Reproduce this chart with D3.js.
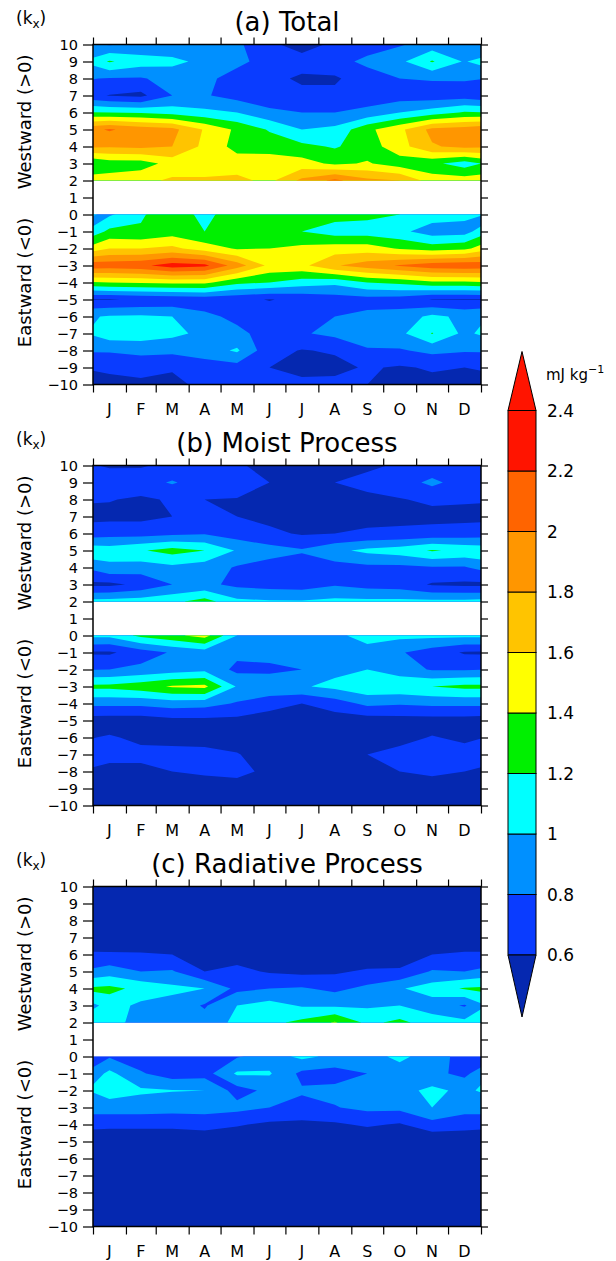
<!DOCTYPE html>
<html><head><meta charset="utf-8">
<script src="https://cdn.jsdelivr.net/npm/d3@7"></script>
<style>body{margin:0;background:#fff}svg{display:block}text{font-family:"DejaVu Sans",sans-serif;fill:#000}</style>
</head><body>
<script>
const months = ["J","F","M","A","M","J","J","A","S","O","N","D"];
const monthDays = [31,28,31,30,31,30,31,31,30,31,30,31];
const kxWest = [10,9,8,7,6,5,4,3,2];
const kxEast = [0,-1,-2,-3,-4,-5,-6,-7,-8,-9,-10];
const yTicks = d3.range(-10, 11);
const levels = [0.6,0.8,1.0,1.2,1.4,1.6,1.8,2.0,2.2,2.4];
const levelLabels = ["0.6","0.8","1","1.2","1.4","1.6","1.8","2","2.2","2.4"];
const panelTitles = ["(a) Total","(b) Moist Process","(c) Radiative Process"];
const colors = ["#0528b0","#0a3cff","#0090ff","#00ffff","#00f000","#ffff00","#ffc400","#ff9600","#ff6400","#ff1400","#ff1400"];

// (a) Total — rows kx 10..2, columns J..D
const totalWest = [
 [0.78,0.84,0.86,0.88,0.84,0.64,0.52,0.64,0.72,0.78,0.88,0.85],
 [1.22,1.10,1.05,0.95,0.85,0.72,0.68,0.74,0.84,0.95,1.22,0.98],
 [0.79,0.78,0.88,0.85,0.72,0.65,0.57,0.57,0.72,0.80,0.82,0.82],
 [0.59,0.55,0.80,0.82,0.72,0.66,0.65,0.65,0.70,0.70,0.68,0.70],
 [1.20,1.18,1.12,1.05,1.00,0.85,0.80,0.80,0.85,1.00,1.10,1.22],
 [2.02,1.92,1.86,1.58,1.36,1.18,1.00,1.05,1.35,1.55,1.86,1.90],
 [1.82,1.85,1.80,1.55,1.33,1.32,1.25,1.18,1.30,1.52,1.78,1.85],
 [1.30,1.30,1.48,1.41,1.50,1.50,1.48,1.36,1.42,1.30,1.25,1.10],
 [1.48,1.55,1.63,1.65,1.65,1.55,1.85,2.05,1.85,1.80,1.50,1.50]
];
// (a) Total — rows kx 0..-10
const totalEast = [
 [0.97,1.18,1.30,1.15,1.30,1.35,1.30,1.28,1.25,1.20,1.10,1.05],
 [1.25,1.22,1.30,1.20,1.32,1.35,1.20,1.10,1.10,1.05,0.90,0.92],
 [1.60,1.60,1.65,1.50,1.38,1.40,1.45,1.50,1.50,1.38,1.30,1.35],
 [2.12,2.15,2.30,2.25,1.90,1.55,1.55,1.78,1.90,2.02,2.12,2.15],
 [1.40,1.42,1.45,1.45,1.25,1.20,1.10,1.05,1.20,1.25,1.35,1.35],
 [0.59,0.62,0.65,0.68,0.65,0.59,0.65,0.70,0.72,0.70,0.59,0.59],
 [1.02,1.03,1.00,0.85,0.75,0.70,0.70,0.80,0.85,0.88,1.05,0.95],
 [1.12,1.12,1.05,0.95,0.85,0.72,0.78,0.85,0.90,0.95,1.21,0.95],
 [0.82,0.85,0.85,0.90,1.03,0.66,0.59,0.62,0.78,0.78,0.85,0.82],
 [0.65,0.68,0.62,0.70,0.72,0.60,0.50,0.55,0.62,0.58,0.62,0.60],
 [0.52,0.55,0.55,0.65,0.68,0.68,0.68,0.65,0.60,0.55,0.55,0.55]
];
// (b) Moist Process
const moistWest = [
 [0.58,0.58,0.65,0.66,0.62,0.55,0.52,0.55,0.57,0.62,0.66,0.64],
 [0.70,0.72,0.82,0.70,0.70,0.60,0.52,0.60,0.65,0.70,0.85,0.70],
 [0.61,0.57,0.62,0.60,0.59,0.55,0.50,0.53,0.56,0.59,0.63,0.62],
 [0.55,0.55,0.60,0.70,0.60,0.55,0.52,0.54,0.56,0.55,0.55,0.55],
 [0.72,0.72,0.75,0.78,0.70,0.64,0.58,0.60,0.62,0.64,0.66,0.68],
 [1.10,1.18,1.28,1.20,0.98,0.88,0.82,0.95,1.05,1.10,1.22,1.15],
 [0.95,0.90,0.95,0.90,0.78,0.72,0.70,0.72,0.75,0.75,0.78,0.78],
 [0.55,0.65,0.80,0.85,0.75,0.72,0.70,0.78,0.72,0.70,0.58,0.56],
 [1.08,1.10,1.15,1.28,1.05,1.02,1.02,1.05,1.05,1.05,1.05,1.05]
];
const moistEast = [
 [1.05,1.25,1.35,1.48,1.00,0.90,0.90,0.97,1.05,1.05,1.05,1.05],
 [0.57,0.70,0.82,0.90,0.85,0.88,0.90,0.92,0.95,0.82,0.70,0.58],
 [0.80,0.85,0.90,0.95,0.75,0.75,0.80,0.95,1.00,0.90,0.78,0.78],
 [1.25,1.32,1.42,1.45,0.98,0.95,0.98,1.05,1.15,1.15,1.20,1.25],
 [0.85,0.85,0.90,0.88,0.78,0.68,0.60,0.70,0.85,0.82,0.85,0.85],
 [0.50,0.50,0.55,0.55,0.55,0.50,0.45,0.50,0.50,0.52,0.52,0.52],
 [0.62,0.56,0.55,0.55,0.52,0.50,0.48,0.50,0.52,0.55,0.61,0.57],
 [0.65,0.65,0.65,0.64,0.61,0.52,0.48,0.50,0.60,0.65,0.68,0.66],
 [0.55,0.55,0.60,0.63,0.66,0.55,0.48,0.50,0.52,0.60,0.64,0.60],
 [0.50,0.48,0.50,0.50,0.50,0.50,0.45,0.48,0.50,0.50,0.50,0.50],
 [0.50,0.48,0.50,0.50,0.50,0.50,0.45,0.48,0.50,0.50,0.50,0.50]
];
// (c) Radiative Process
const radWest = [
 [0.40,0.40,0.40,0.40,0.40,0.40,0.40,0.40,0.40,0.40,0.40,0.40],
 [0.40,0.40,0.40,0.40,0.40,0.40,0.40,0.40,0.40,0.40,0.40,0.40],
 [0.42,0.42,0.42,0.42,0.42,0.42,0.42,0.42,0.42,0.42,0.42,0.42],
 [0.42,0.45,0.45,0.42,0.42,0.40,0.40,0.40,0.42,0.42,0.45,0.45],
 [0.63,0.62,0.60,0.50,0.52,0.45,0.42,0.42,0.45,0.48,0.60,0.63],
 [0.90,0.80,0.82,0.60,0.65,0.58,0.55,0.57,0.63,0.63,0.82,0.80],
 [1.25,1.15,1.05,1.00,0.75,0.80,0.82,0.75,0.85,0.98,1.10,1.22],
 [1.10,0.95,0.92,0.78,1.00,1.08,0.98,0.97,0.97,1.00,0.90,0.78],
 [1.05,0.95,0.90,0.88,1.05,1.15,1.25,1.42,1.15,1.25,1.10,1.05]
];
const radEast = [
 [0.78,0.70,0.65,0.65,0.78,0.90,1.05,0.95,0.92,1.05,0.90,0.72],
 [1.05,0.82,0.70,0.72,1.03,1.02,0.75,0.72,0.80,0.90,0.85,0.75],
 [1.10,1.03,1.01,1.00,0.72,0.85,0.82,0.85,0.88,0.93,1.05,0.95],
 [0.90,0.90,0.88,0.88,0.86,0.80,0.75,0.79,0.85,0.85,1.00,0.88],
 [0.65,0.65,0.65,0.68,0.62,0.56,0.55,0.57,0.63,0.58,0.73,0.68],
 [0.45,0.45,0.45,0.45,0.45,0.45,0.42,0.42,0.42,0.45,0.43,0.45],
 [0.40,0.40,0.40,0.40,0.40,0.40,0.40,0.40,0.40,0.40,0.40,0.40],
 [0.40,0.40,0.40,0.40,0.40,0.40,0.40,0.40,0.40,0.40,0.40,0.40],
 [0.40,0.40,0.40,0.40,0.40,0.40,0.40,0.40,0.40,0.40,0.40,0.40],
 [0.40,0.40,0.40,0.40,0.40,0.40,0.40,0.40,0.40,0.40,0.40,0.40],
 [0.40,0.40,0.40,0.40,0.40,0.40,0.40,0.40,0.40,0.40,0.40,0.40]
];

const panels = [
  {title: panelTitles[0], west: totalWest, east: totalEast},
  {title: panelTitles[1], west: moistWest, east: moistEast},
  {title: panelTitles[2], west: radWest, east: radEast}
];

const W = 616, H = 1261;
const svg = d3.select("body").append("svg").attr("width", W).attr("height", H);
const x0 = 93, x1 = 481;
const dayScale = d3.scaleLinear().domain([0, 365]).range([x0, x1]);
const starts = [0]; monthDays.forEach(d => starts.push(starts[starts.length-1] + d));
const mids = monthDays.map((d, i) => starts[i] + d / 2);
const midsExt = [-monthDays[11] / 2, ...mids, 365 + monthDays[0] / 2];
const gx = d3.scaleLinear().domain(d3.range(14).map(i => i + 0.5)).range(midsExt.map(dayScale));

function drawHalf(g, rows, kxs, y, id) {
  const n = 14, m = rows.length;
  const vals = [];
  rows.forEach(r => { vals.push(r[11], ...r, r[0]); });
  const gy = d3.scaleLinear().domain([0.5, m - 0.5]).range([y(kxs[0]), y(kxs[m-1])]);
  const path = d3.geoPath(d3.geoTransform({point(px, py) { this.stream.point(gx(px), gy(py)); }}));
  svg.append("clipPath").attr("id", id).append("rect")
    .attr("x", x0).attr("y", y(kxs[0])).attr("width", x1 - x0).attr("height", y(kxs[m-1]) - y(kxs[0]));
  const cg = g.append("g").attr("clip-path", `url(#${id})`);
  cg.append("rect").attr("x", x0).attr("y", y(kxs[0])).attr("width", x1 - x0)
    .attr("height", y(kxs[m-1]) - y(kxs[0])).attr("fill", colors[0]);
  const cs = d3.contours().size([n, m]).thresholds(levels)(vals);
  cg.selectAll("path.c").data(cs).join("path").attr("class", "c")
    .attr("d", path).attr("fill", (d, i) => colors[i + 1]);
}

panels.forEach((p, pi) => {
  const top = 44.5 + pi * 421;
  const y = d3.scaleLinear().domain([10, -10]).range([top, top + 340]);
  const g = svg.append("g");
  drawHalf(g, p.west, kxWest, y, "cw" + pi);
  drawHalf(g, p.east, kxEast, y, "ce" + pi);

  g.append("rect").attr("x", x0).attr("y", y(10)).attr("width", x1 - x0).attr("height", y(-10) - y(10))
    .attr("fill", "none").attr("stroke", "#000").attr("stroke-width", 1.5);

  const la = g.append("g").attr("transform", `translate(${x0},0)`)
    .call(d3.axisLeft(y).tickValues(yTicks).tickSize(10).tickPadding(5)
      .tickFormat(d => d < 0 ? "\u2212" + (-d) : String(d)));
  la.select(".domain").remove();
  la.selectAll("text").attr("font-size", 14.5).attr("font-family", "DejaVu Sans").attr("fill", "#000");
  la.selectAll("line").attr("stroke-width", 1.2);

  const ra = g.append("g").attr("transform", `translate(${x1},0)`)
    .call(d3.axisRight(y).tickValues(yTicks).tickSize(7).tickFormat(""));
  ra.select(".domain").remove();
  ra.selectAll("line").attr("stroke-width", 1.2);

  const ba = g.append("g").attr("transform", `translate(0,${y(-10)})`)
    .call(d3.axisBottom(dayScale).tickValues(starts).tickSize(8).tickFormat(""));
  ba.select(".domain").remove();
  ba.selectAll("line").attr("stroke-width", 1.2);

  const ta = g.append("g").attr("transform", `translate(0,${y(10)})`)
    .call(d3.axisTop(dayScale).tickValues(starts).tickSize(7).tickFormat(""));
  ta.select(".domain").remove();
  ta.selectAll("line").attr("stroke-width", 1.2);

  g.selectAll("text.mon").data(months).join("text").attr("class", "mon")
    .attr("x", (d, i) => dayScale(mids[i])).attr("y", y(-10) + 30)
    .attr("text-anchor", "middle").attr("font-size", 16).text(d => d);

  g.append("text").attr("x", (x0 + x1) / 2).attr("y", top - 14).attr("text-anchor", "middle")
    .attr("font-size", 26).text(p.title);

  const kt = g.append("text").attr("x", 16).attr("y", top - 21).attr("font-size", 17);
  kt.append("tspan").text("(k");
  kt.append("tspan").attr("font-size", 12).attr("dy", 4).text("x");
  kt.append("tspan").attr("dy", -4).text(")");

  g.append("text").attr("transform", `translate(31,${y(5.45)}) rotate(-90)`)
    .attr("text-anchor", "middle").attr("font-size", 18).text("Westward (>0)");
  g.append("text").attr("transform", `translate(31,${y(-4)}) rotate(-90)`)
    .attr("text-anchor", "middle").attr("font-size", 18).text("Eastward (<0)");
});

// colour bar
const cb = d3.scaleLinear().domain([0.6, 2.4]).range([955, 410.5]);
const bx0 = 508, bx1 = 536;
const cbg = svg.append("g");
d3.range(levels.length - 1).forEach(i => {
  cbg.append("rect").attr("x", bx0).attr("y", cb(levels[i+1])).attr("width", bx1 - bx0)
    .attr("height", cb(levels[i]) - cb(levels[i+1])).attr("fill", colors[i+1])
    .attr("stroke", "#000").attr("stroke-width", 1);
});
cbg.append("path").attr("d", `M${bx0},${cb(0.6)}L${bx1},${cb(0.6)}L${(bx0+bx1)/2},${cb(0.6)+62}Z`)
  .attr("fill", colors[0]).attr("stroke", "#000").attr("stroke-width", 1);
cbg.append("path").attr("d", `M${bx0},${cb(2.4)}L${bx1},${cb(2.4)}L${(bx0+bx1)/2},${cb(2.4)-59}Z`)
  .attr("fill", colors[10]).attr("stroke", "#000").attr("stroke-width", 1);
cbg.selectAll("text.lv").data(levels).join("text").attr("class", "lv")
  .attr("x", 547).attr("y", d => cb(d)).attr("dy", "0.36em").attr("font-size", 17)
  .text((d, i) => levelLabels[i]);
const ut = cbg.append("text").attr("x", 546).attr("y", 380).attr("font-size", 15);
ut.append("tspan").text("mJ kg");
ut.append("tspan").attr("font-size", 11).attr("dy", -7).text("\u22121");
</script>
</body></html>
